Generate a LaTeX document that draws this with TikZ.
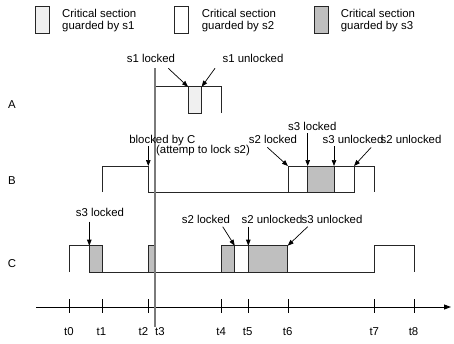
\documentclass[tikz,border=0pt]{standalone}
\usepackage{fontspec}
\setmainfont{Liberation Sans}
\usetikzlibrary{arrows.meta}
\begin{document}
\begin{tikzpicture}[x=1pt,y=-1pt,
  wave/.style={line width=0.9pt, draw=black!85},
  lbl/.style={anchor=base, inner sep=0pt, font=\fontsize{11.4}{13}\selectfont},
  lgd/.style={anchor=base west, inner sep=0pt, font=\fontsize{11.4}{13}\selectfont},
  ptr/.style={-{Triangle[length=6pt,width=4.5pt]}, line width=0.7pt, draw=black},
  csone/.style={wave, fill=black!6},
  cstwo/.style={wave, fill=white},
  csthree/.style={wave, fill=black!25},
  legbox/.style={wave, minimum width=14pt, minimum height=26.6pt, inner sep=0pt},
  tick/.style={line width=0.9pt, draw=black}
]
\useasboundingbox (0,0) rectangle (454,343);

% legend
\node[legbox, csone] (leg1) at (42.3,20) {};
\node[lgd] (leg1a) at (62,17.6) {Critical section};
\node[lgd] (leg1b) at (62,29.4) {guarded by s1};
\node[legbox, cstwo] (leg2) at (181.9,20) {};
\node[lgd] (leg2a) at (201.7,17.6) {Critical section};
\node[lgd] (leg2b) at (201.7,29.4) {guarded by s2};
\node[legbox, csthree] (leg3) at (321.3,20) {};
\node[lgd] (leg3a) at (340.7,17.6) {Critical section};
\node[lgd] (leg3b) at (340.7,29.4) {guarded by s3};

% row labels
\node[lbl] (rowA) at (12,108) {A};
\node[lbl] (rowB) at (12,184) {B};
\node[lbl] (rowC) at (12,267.5) {C};

% row A
\draw[wave] (155,86.7) -- (188,86.7);
\draw[csone] (188,86.7) rectangle (201.7,113);
\draw[wave] (201.7,86.7) -- (221.7,86.7) -- (221.7,113);

% row B
\draw[wave] (102,192) -- (102,166) -- (148.3,166) -- (148.3,192) -- (288,192);
\draw[cstwo] (288,166) rectangle (354,192);
\draw[csthree] (307.7,166) rectangle (334,192);
\draw[wave] (354,166) -- (374.3,166) -- (374.3,192);

% row C
\draw[wave] (69.3,272) -- (69.3,245.7) -- (89.3,245.7);
\draw[csthree] (89.3,245.7) rectangle (102.3,272);
\draw[wave] (102.3,272) -- (148.3,272);
\draw[csthree] (148.3,245.7) rectangle (155,272);
\draw[wave] (155,272) -- (221.7,272);
\draw[csthree] (221.7,245.7) rectangle (287.7,272);
\draw[cstwo] (234.7,245.7) rectangle (248.3,272);
\draw[wave] (287.7,272) -- (374.3,272) -- (374.3,245.7) -- (414,245.7) -- (414,272);

% time axis
\coordinate (axs) at (36,307);
\coordinate (axe) at (451,307);
\draw[line width=0.9pt, -{Triangle[length=7pt,width=5pt]}] (axs) -- (axe);
\foreach \x/\lx/\n in {69/69/t0, 102/101.5/t1, 148.7/143.5/t2, 221.7/221.2/t4, 248/247.7/t5, 288/287.7/t6, 374.3/374.3/t7, 414/413.5/t8}{
  \draw[tick] (\x,299.3) -- (\x,312.7);
  \node[lbl] (lab\n) at (\lx,335) {\n};
}
\node[lbl] (labt3) at (160,335) {t3};

% gray marker line at t3
\draw[line width=2pt, draw=black!52] (155,68) -- (155,327);

% annotations row A
\node[lbl] (l1) at (151,62.7) {s1 locked};
\node[lbl] (l2) at (253,62.7) {s1 unlocked};
\coordinate (l1s) at (168.3,68.3);  \coordinate (l1e) at (188,86.7);
\coordinate (l2s) at (215,68.3);    \coordinate (l2e) at (201.7,86.7);
\draw[ptr] (l1s) -- (l1e);
\draw[ptr] (l2s) -- (l2e);

% annotations row B
\node[lbl] (b1) at (162.3,143.3) {blocked by C};
\node[lbl] (b1b) at (203,153.3) {(attemp to lock s2)};
\node[lbl] (b2) at (273,143.3) {s2 locked};
\node[lbl] (b3) at (312.3,130) {s3 locked};
\node[lbl] (b4) at (353,143.3) {s3 unlocked};
\node[lbl] (b5) at (411,143.3) {s2 unlocked};
\coordinate (b1s) at (148.3,146);   \coordinate (b1e) at (148.3,166);
\coordinate (b2s) at (267.3,147.3); \coordinate (b2e) at (288,166);
\coordinate (b3s) at (307.7,133);   \coordinate (b3e) at (307.7,166);
\coordinate (b4s) at (334,146);     \coordinate (b4e) at (334,166);
\coordinate (b5s) at (371,147.5);   \coordinate (b5e) at (354,166);
\draw[ptr] (b1s) -- (b1e);
\draw[ptr] (b2s) -- (b2e);
\draw[ptr] (b3s) -- (b3e);
\draw[ptr] (b4s) -- (b4e);
\draw[ptr] (b5s) -- (b5e);

% annotations row C
\node[lbl] (c1) at (100,216.7) {s3 locked};
\node[lbl] (c2) at (206,223.3) {s2 locked};
\node[lbl] (c3) at (272,223.3) {s2 unlocked};
\node[lbl] (c4) at (332,223.3) {s3 unlocked};
\coordinate (c1s) at (89.3,221.5);  \coordinate (c1e) at (89.3,245.7);
\coordinate (c2s) at (222.7,226.7); \coordinate (c2e) at (234.7,245.7);
\coordinate (c3s) at (248.3,226.7); \coordinate (c3e) at (248.3,245.7);
\coordinate (c4s) at (307.7,226.7); \coordinate (c4e) at (287.7,245.7);
\draw[ptr] (c1s) -- (c1e);
\draw[ptr] (c2s) -- (c2e);
\draw[ptr] (c3s) -- (c3e);
\draw[ptr] (c4s) -- (c4e);
\end{tikzpicture}
\end{document}
